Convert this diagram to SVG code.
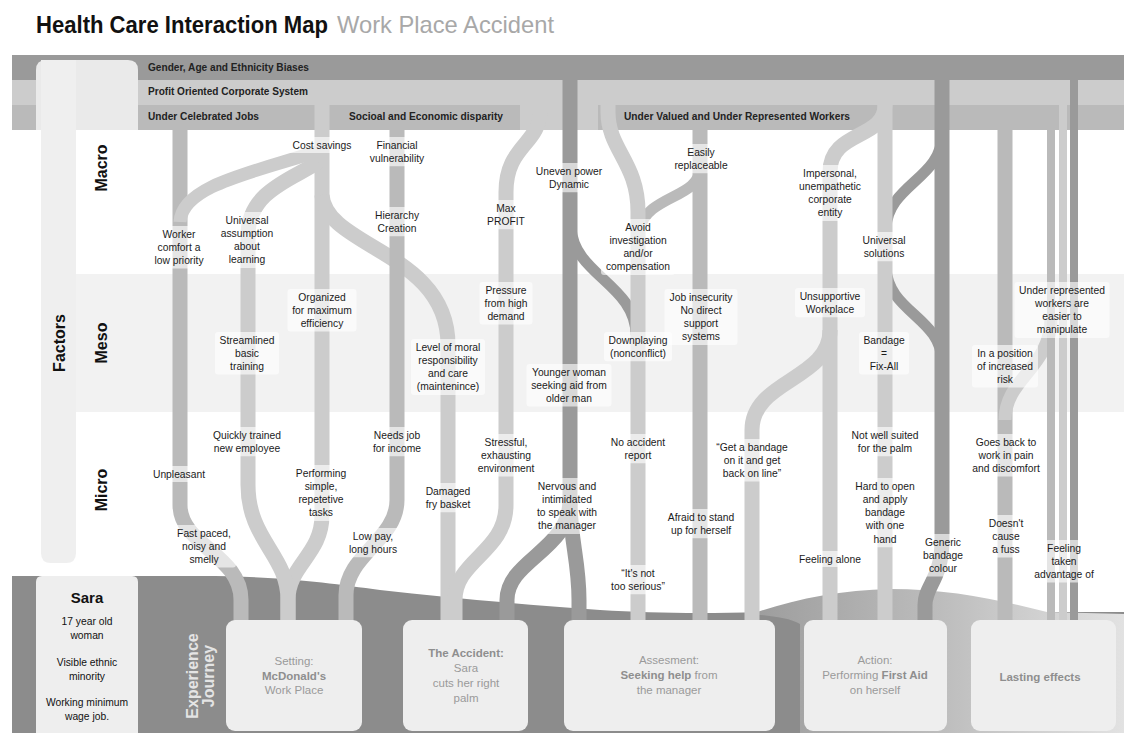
<svg xmlns="http://www.w3.org/2000/svg" width="1124" height="733" viewBox="0 0 1124 733">
<defs>
<style>
.t{font-family:"Liberation Sans",Arial,sans-serif;font-size:10.3px;fill:#1b1b1b;text-anchor:middle}
.bgl{fill:#fff;fill-opacity:0.62}
.band{font-family:"Liberation Sans",Arial,sans-serif;font-size:11px;font-weight:bold;fill:#222}
.row{font-family:"Liberation Sans",Arial,sans-serif;font-size:16px;font-weight:bold;fill:#111;text-anchor:middle}
.bx{fill:#eeeeee}
.bt{font-family:"Liberation Sans",Arial,sans-serif;font-size:11.5px;fill:#9a9a9a;text-anchor:middle}
.bt .b{font-weight:bold;fill:#8e8e8e}
.st{font-family:"Liberation Sans",Arial,sans-serif;font-size:10.3px;fill:#111;text-anchor:middle}
.s1{stroke:#9a9a9a}
.s2{stroke:#cccccc}
.s3{stroke:#bababa}
</style>
<linearGradient id="hill" gradientUnits="userSpaceOnUse" x1="760" y1="0" x2="1124" y2="0">
<stop offset="0" stop-color="#9e9e9e"/>
<stop offset="0.5" stop-color="#bdbdbd"/>
<stop offset="1" stop-color="#e2e2e2"/>
</linearGradient>
</defs>
<rect width="1124" height="733" fill="#ffffff"/>

<g id="title">
<text x="36" y="33" font-family="Liberation Sans, Arial, sans-serif" font-size="24" font-weight="bold" fill="#111" textLength="292" lengthAdjust="spacingAndGlyphs">Health Care Interaction Map</text>
<text x="337" y="33" font-family="Liberation Sans, Arial, sans-serif" font-size="24" fill="#a8a8a8" textLength="217" lengthAdjust="spacingAndGlyphs">Work Place Accident</text>
</g>

<g id="bands">
<rect x="12" y="55" width="1112" height="25" fill="#9a9a9a"/>
<rect x="12" y="80" width="1112" height="50" fill="#cccccc"/>
<rect x="12" y="105" width="508" height="25" fill="#bababa"/>
<rect x="598" y="105" width="526" height="25" fill="#bababa"/>
<text class="band" x="148" y="71" textLength="161" lengthAdjust="spacingAndGlyphs">Gender, Age and Ethnicity Biases</text>
<text class="band" x="148" y="95" textLength="160" lengthAdjust="spacingAndGlyphs">Profit Oriented Corporate System</text>
<text class="band" x="148" y="120" textLength="111" lengthAdjust="spacingAndGlyphs">Under Celebrated Jobs</text>
<text class="band" x="349" y="120" textLength="154" lengthAdjust="spacingAndGlyphs">Socioal and Economic disparity</text>
<text class="band" x="624" y="120" textLength="226" lengthAdjust="spacingAndGlyphs">Under Valued and Under Represented Workers</text>
</g>

<rect id="meso-band" x="76" y="274" width="1048" height="138" fill="#f2f2f2"/>

<g id="ground">
<path d="M12,576 H200 C280,576 330,583 380,590 C450,598 520,604 600,610 C650,613 700,614 760,612 L1124,612 V733 H12 Z" fill="#8c8c8c"/>
<path d="M752,614 C790,600 840,590 890,589 C950,589 1000,600 1047,612 L1124,614 V733 H800 V624 C790,618 770,616 752,614 Z" fill="url(#hill)"/>
</g>

<g id="factors-column">
<path d="M36,130 V70 Q36,60 46,60 H128 Q138,60 138,70 V130 Z" fill="#eaeaea"/>
<path d="M41,60 H76 V553 Q76,563 66,563 H51 Q41,563 41,553 Z" fill="#efefef"/>
</g>

<g id="connectors" fill="none" stroke-width="15">
<path class="s1" stroke-width="11" d="M571,228 C574,275 636,285 636,335"/>
<path class="s3" stroke-width="11" d="M700,168 C700,198 648,195 640,228"/>
<path class="s1" stroke-width="11" d="M942,135 C942,178 888,185 886,228"/>
<path class="s1" stroke-width="11" d="M886,268 C888,312 942,318 942,362"/>
<path class="s3" d="M180,130 V505 C180,545 241,555 241,600 V625"/>
<path class="s2" stroke-width="13" d="M180,222 C182,185 255,172 322,150"/>
<path class="s2" d="M322,105 V515 C322,555 288,565 288,600 V625"/>
<path class="s2" d="M318,162 C296,178 248,190 248,235 V485 C248,540 288,555 288,600 V625"/>
<path class="s2" d="M322,195 C326,248 448,252 448,345 V625"/>
<path class="s3" d="M397,130 V500 C397,540 346,555 346,595 V625"/>
<path class="s2" d="M540,105 V110 C540,145 506,145 506,192 V505 C506,552 455,560 455,600 V625"/>
<path class="s1" d="M570,55 V500 C570,550 507,560 507,600 V625"/>
<path class="s1" d="M570,500 C570,540 579,560 579,600 V625"/>
<path class="s2" d="M608,105 V112 C608,150 638,162 638,212 V625"/>
<path class="s3" d="M700,130 V625"/>
<path class="s2" d="M830,330 C830,380 752,380 752,430 V625"/>
<path class="s2" d="M885,105 C885,140 830,130 830,172 V625"/>
<path class="s2" d="M885,105 V625"/>
<path class="s1" d="M942,55 V540 C942,580 925,585 925,605 V625"/>
<path class="s3" d="M1005,130 V625"/>
<path class="s2" stroke-width="13" d="M1051,318 C1051,368 1005,378 1005,420"/>
<path class="s3" stroke-width="8" d="M1051,130 V625"/>
<path class="s2" stroke-width="8" d="M1063,105 V625"/>
<path class="s1" stroke-width="8" d="M1074,80 V625"/>
</g>

<g id="labels">
<g id="n-cost-savings"><rect class="bgl" x="288" y="137" width="68" height="16" rx="3"/><text class="t"><tspan x="322" y="148.5">Cost savings</tspan></text></g>
<g id="n-financial"><rect class="bgl" x="364.5" y="137" width="65" height="29.3" rx="3"/><text class="t"><tspan x="397" y="148.5">Financial</tspan><tspan x="397" y="161.8">vulnerability</tspan></text></g>
<g id="n-hierarchy"><rect class="bgl" x="369.5" y="207" width="55" height="29.3" rx="3"/><text class="t"><tspan x="397" y="218.5">Hierarchy</tspan><tspan x="397" y="231.8">Creation</tspan></text></g>
<g id="n-worker-comfort"><rect class="bgl" x="148" y="226" width="62" height="42.6" rx="3"/><text class="t"><tspan x="179" y="237.5">Worker</tspan><tspan x="179" y="250.8">comfort a</tspan><tspan x="179" y="264.1">low priority</tspan></text></g>
<g id="n-universal-assumption"><rect class="bgl" x="215" y="212" width="64" height="55.9" rx="3"/><text class="t"><tspan x="247" y="223.5">Universal</tspan><tspan x="247" y="236.8">assumption</tspan><tspan x="247" y="250.1">about</tspan><tspan x="247" y="263.4">learning</tspan></text></g>
<g id="n-max-profit"><rect class="bgl" x="482" y="200" width="48" height="29.3" rx="3"/><text class="t"><tspan x="506" y="211.5">Max</tspan><tspan x="506" y="224.8">PROFIT</tspan></text></g>
<g id="n-uneven-power"><rect class="bgl" x="530.5" y="163" width="77" height="29.3" rx="3"/><text class="t"><tspan x="569" y="174.5">Uneven power</tspan><tspan x="569" y="187.8">Dynamic</tspan></text></g>
<g id="n-easily-replaceable"><rect class="bgl" x="669.5" y="144" width="63" height="29.3" rx="3"/><text class="t"><tspan x="701" y="155.5">Easily</tspan><tspan x="701" y="168.8">replaceable</tspan></text></g>
<g id="n-avoid"><rect class="bgl" x="601" y="219" width="74" height="55.9" rx="3"/><text class="t"><tspan x="638" y="230.5">Avoid</tspan><tspan x="638" y="243.8">investigation</tspan><tspan x="638" y="257.1">and/or</tspan><tspan x="638" y="270.4">compensation</tspan></text></g>
<g id="n-impersonal"><rect class="bgl" x="794" y="165" width="72" height="55.9" rx="3"/><text class="t"><tspan x="830" y="176.5">Impersonal,</tspan><tspan x="830" y="189.8">unempathetic</tspan><tspan x="830" y="203.1">corporate</tspan><tspan x="830" y="216.4">entity</tspan></text></g>
<g id="n-universal-solutions"><rect class="bgl" x="856.5" y="232" width="55" height="29.3" rx="3"/><text class="t"><tspan x="884" y="243.5">Universal</tspan><tspan x="884" y="256.8">solutions</tspan></text></g>
<g id="n-organized"><rect class="bgl" x="287.5" y="289" width="69" height="42.6" rx="3"/><text class="t"><tspan x="322" y="300.5">Organized</tspan><tspan x="322" y="313.8">for maximum</tspan><tspan x="322" y="327.1">efficiency</tspan></text></g>
<g id="n-pressure"><rect class="bgl" x="479.5" y="282" width="53" height="42.6" rx="3"/><text class="t"><tspan x="506" y="293.5">Pressure</tspan><tspan x="506" y="306.8">from high</tspan><tspan x="506" y="320.1">demand</tspan></text></g>
<g id="n-job-insecurity"><rect class="bgl" x="664.5" y="289" width="73" height="55.9" rx="3"/><text class="t"><tspan x="701" y="300.5">Job insecurity</tspan><tspan x="701" y="313.8">No direct</tspan><tspan x="701" y="327.1">support</tspan><tspan x="701" y="340.4">systems</tspan></text></g>
<g id="n-unsupportive"><rect class="bgl" x="795" y="288" width="70" height="29.3" rx="3"/><text class="t"><tspan x="830" y="299.5">Unsupportive</tspan><tspan x="830" y="312.8">Workplace</tspan></text></g>
<g id="n-under-represented"><rect class="bgl" x="1014.5" y="282" width="95" height="55.9" rx="3"/><text class="t"><tspan x="1062" y="293.5">Under represented</tspan><tspan x="1062" y="306.8">workers are</tspan><tspan x="1062" y="320.1">easier to</tspan><tspan x="1062" y="333.4">manipulate</tspan></text></g>
<g id="n-streamlined"><rect class="bgl" x="215" y="332" width="64" height="42.6" rx="3"/><text class="t"><tspan x="247" y="343.5">Streamlined</tspan><tspan x="247" y="356.8">basic</tspan><tspan x="247" y="370.1">training</tspan></text></g>
<g id="n-moral"><rect class="bgl" x="411" y="339" width="74" height="55.9" rx="3"/><text class="t"><tspan x="448" y="350.5">Level of moral</tspan><tspan x="448" y="363.8">responsibility</tspan><tspan x="448" y="377.1">and care</tspan><tspan x="448" y="390.4">(maintenince)</tspan></text></g>
<g id="n-downplaying"><rect class="bgl" x="604" y="332" width="68" height="29.3" rx="3"/><text class="t"><tspan x="638" y="343.5">Downplaying</tspan><tspan x="638" y="356.8">(nonconflict)</tspan></text></g>
<g id="n-younger-woman"><rect class="bgl" x="526.5" y="364" width="85" height="42.6" rx="3"/><text class="t"><tspan x="569" y="375.5">Younger woman</tspan><tspan x="569" y="388.8">seeking aid from</tspan><tspan x="569" y="402.1">older man</tspan></text></g>
<g id="n-bandage-fix"><rect class="bgl" x="859" y="332" width="50" height="42.6" rx="3"/><text class="t"><tspan x="884" y="343.5">Bandage</tspan><tspan x="884" y="356.8">=</tspan><tspan x="884" y="370.1">Fix-All</tspan></text></g>
<g id="n-increased-risk"><rect class="bgl" x="972" y="345" width="66" height="42.6" rx="3"/><text class="t"><tspan x="1005" y="356.5">In a position</tspan><tspan x="1005" y="369.8">of increased</tspan><tspan x="1005" y="383.1">risk</tspan></text></g>
<g id="n-quickly-trained"><rect class="bgl" x="208" y="427" width="78" height="29.3" rx="3"/><text class="t"><tspan x="247" y="438.5">Quickly trained</tspan><tspan x="247" y="451.8">new employee</tspan></text></g>
<g id="n-needs-job"><rect class="bgl" x="368" y="427" width="58" height="29.3" rx="3"/><text class="t"><tspan x="397" y="438.5">Needs job</tspan><tspan x="397" y="451.8">for income</tspan></text></g>
<g id="n-stressful"><rect class="bgl" x="473" y="434" width="66" height="42.6" rx="3"/><text class="t"><tspan x="506" y="445.5">Stressful,</tspan><tspan x="506" y="458.8">exhausting</tspan><tspan x="506" y="472.1">environment</tspan></text></g>
<g id="n-no-report"><rect class="bgl" x="606" y="434" width="64" height="29.3" rx="3"/><text class="t"><tspan x="638" y="445.5">No accident</tspan><tspan x="638" y="458.8">report</tspan></text></g>
<g id="n-get-bandage"><rect class="bgl" x="711.5" y="439" width="81" height="42.6" rx="3"/><text class="t"><tspan x="752" y="450.5">“Get a bandage</tspan><tspan x="752" y="463.8">on it and get</tspan><tspan x="752" y="477.1">back on line”</tspan></text></g>
<g id="n-not-suited"><rect class="bgl" x="846.5" y="427" width="77" height="29.3" rx="3"/><text class="t"><tspan x="885" y="438.5">Not well suited</tspan><tspan x="885" y="451.8">for the palm</tspan></text></g>
<g id="n-goes-back"><rect class="bgl" x="967.5" y="434" width="77" height="42.6" rx="3"/><text class="t"><tspan x="1006" y="445.5">Goes back to</tspan><tspan x="1006" y="458.8">work in pain</tspan><tspan x="1006" y="472.1">and discomfort</tspan></text></g>
<g id="n-unpleasant"><rect class="bgl" x="148.5" y="466" width="61" height="16" rx="3"/><text class="t"><tspan x="179" y="477.5">Unpleasant</tspan></text></g>
<g id="n-performing"><rect class="bgl" x="290.5" y="465" width="61" height="55.9" rx="3"/><text class="t"><tspan x="321" y="476.5">Performing</tspan><tspan x="321" y="489.8">simple,</tspan><tspan x="321" y="503.1">repetetive</tspan><tspan x="321" y="516.4">tasks</tspan></text></g>
<g id="n-damaged"><rect class="bgl" x="420.5" y="483" width="55" height="29.3" rx="3"/><text class="t"><tspan x="448" y="494.5">Damaged</tspan><tspan x="448" y="507.8">fry basket</tspan></text></g>
<g id="n-nervous"><rect class="bgl" x="531" y="478" width="72" height="55.9" rx="3"/><text class="t"><tspan x="567" y="489.5">Nervous and</tspan><tspan x="567" y="502.8">intimidated</tspan><tspan x="567" y="516.1">to speak with</tspan><tspan x="567" y="529.4">the manager</tspan></text></g>
<g id="n-afraid"><rect class="bgl" x="662" y="509" width="78" height="29.3" rx="3"/><text class="t"><tspan x="701" y="520.5">Afraid to stand</tspan><tspan x="701" y="533.8">up for herself</tspan></text></g>
<g id="n-hard-to-open"><rect class="bgl" x="850" y="478" width="70" height="69.2" rx="3"/><text class="t"><tspan x="885" y="489.5">Hard to open</tspan><tspan x="885" y="502.8">and apply</tspan><tspan x="885" y="516.1">bandage</tspan><tspan x="885" y="529.4">with one</tspan><tspan x="885" y="542.7">hand</tspan></text></g>
<g id="n-fast-paced"><rect class="bgl" x="172" y="525" width="64" height="42.6" rx="3"/><text class="t"><tspan x="204" y="536.5">Fast paced,</tspan><tspan x="204" y="549.8">noisy and</tspan><tspan x="204" y="563.1">smelly</tspan></text></g>
<g id="n-low-pay"><rect class="bgl" x="343.5" y="528" width="59" height="29.3" rx="3"/><text class="t"><tspan x="373" y="539.5">Low pay,</tspan><tspan x="373" y="552.8">long hours</tspan></text></g>
<g id="n-no-fuss"><rect class="bgl" x="982.5" y="515" width="47" height="42.6" rx="3"/><text class="t"><tspan x="1006" y="526.5">Doesn't</tspan><tspan x="1006" y="539.8">cause</tspan><tspan x="1006" y="553.1">a fuss</tspan></text></g>
<g id="n-generic-colour"><rect class="bgl" x="918" y="534" width="50" height="42.6" rx="3"/><text class="t"><tspan x="943" y="545.5">Generic</tspan><tspan x="943" y="558.8">bandage</tspan><tspan x="943" y="572.1">colour</tspan></text></g>
<g id="n-taken-advantage"><rect class="bgl" x="1028.5" y="540" width="71" height="42.6" rx="3"/><text class="t"><tspan x="1064" y="551.5">Feeling</tspan><tspan x="1064" y="564.8">taken</tspan><tspan x="1064" y="578.1">advantage of</tspan></text></g>
<g id="n-feeling-alone"><rect class="bgl" x="793.5" y="551" width="73" height="16" rx="3"/><text class="t"><tspan x="830" y="562.5">Feeling alone</tspan></text></g>
<g id="n-not-serious"><rect class="bgl" x="605.5" y="565" width="65" height="29.3" rx="3"/><text class="t"><tspan x="638" y="576.5">“It's not</tspan><tspan x="638" y="589.8">too serious”</tspan></text></g>
</g>

<g id="sara">
<path d="M36,733 V582 Q36,576 42,576 H132 Q138,576 138,582 V733 Z" fill="#eeeeee"/>
<text x="87" y="603" font-family="Liberation Sans, Arial, sans-serif" font-size="15" font-weight="bold" fill="#111" text-anchor="middle">Sara</text>
<text class="st"><tspan x="87" y="625">17 year old</tspan><tspan x="87" y="639">woman</tspan><tspan x="87" y="666">Visible ethnic</tspan><tspan x="87" y="680">minority</tspan><tspan x="87" y="706">Working minimum</tspan><tspan x="87" y="720">wage job.</tspan></text>
</g>

<g id="experience-journey" font-family="Liberation Sans, Arial, sans-serif" font-size="16" font-weight="bold" fill="#e4e4e4" text-anchor="middle">
<text transform="translate(198,676) rotate(-90)">Experience</text>
<text transform="translate(214,676) rotate(-90)">Journey</text>
</g>

<g id="box-setting"><rect class="bx" x="226" y="620" width="136" height="111" rx="9"/><text class="bt"><tspan x="294" y="665">Setting:</tspan><tspan class="b" x="294" y="679.5">McDonald's</tspan><tspan x="294" y="694">Work Place</tspan></text></g>
<g id="box-accident"><rect class="bx" x="403" y="620" width="125" height="111" rx="9"/><text class="bt"><tspan class="b" x="466" y="657">The Accident:</tspan><tspan x="466" y="672">Sara</tspan><tspan x="466" y="687">cuts her right</tspan><tspan x="466" y="702">palm</tspan></text></g>
<g id="box-assessment"><rect class="bx" x="564" y="620" width="211" height="111" rx="9"/><text class="bt"><tspan x="669" y="664">Assesment:</tspan><tspan x="669" y="679"><tspan class="b">Seeking help</tspan> from</tspan><tspan x="669" y="694">the manager</tspan></text></g>
<g id="box-action"><rect class="bx" x="804" y="620" width="143" height="111" rx="9"/><text class="bt"><tspan x="875" y="664">Action:</tspan><tspan x="875" y="679">Performing <tspan class="b">First Aid</tspan></tspan><tspan x="875" y="694">on herself</tspan></text></g>
<g id="box-lasting"><rect class="bx" x="971" y="620" width="145" height="111" rx="9"/><text class="bt"><tspan class="b" x="1040" y="681">Lasting effects</tspan></text></g>

<g id="row-labels">
<text class="row" transform="translate(65,343) rotate(-90)">Factors</text>
<text class="row" transform="translate(107,168) rotate(-90)">Macro</text>
<text class="row" transform="translate(107,343) rotate(-90)">Meso</text>
<text class="row" transform="translate(107,490) rotate(-90)">Micro</text>
</g>
</svg>
